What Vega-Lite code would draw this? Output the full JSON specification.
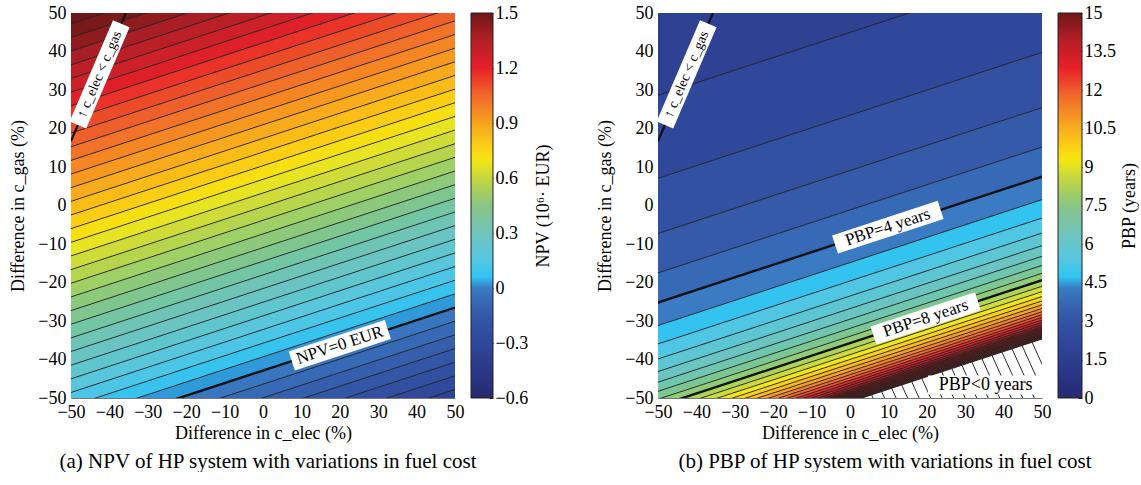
{
"$schema": "https://vega.github.io/schema/vega-lite/v6.json",
"padding": {"left": 9, "top": 4, "right": 0, "bottom": 0},
"bounds": "flush",
"spacing": 16,
"resolve": {"scale": {"color": "independent"}},
"config": {
  "font": "Liberation Serif",
  "view": {"stroke": null},
  "axis": {"labelFont": "Liberation Serif", "labelFontSize": 18, "labelColor": "#000", "titleFont": "Liberation Serif", "titleFontSize": 18, "titleFontWeight": "normal", "titleColor": "#000", "grid": false, "ticks": false, "domainColor": "#777", "labelPadding": 5, "labelOverlap": false, "labelFlush": false},
  "title": {"font": "Liberation Serif", "fontSize": 21, "fontWeight": "normal", "color": "#000"},
  "text": {"font": "Liberation Serif"}
},
"datasets": {
  "npv": [
    {"v":-0.35,"m":-0.325,"x":-50,"y":-84.02,"y2":-80.48},{"v":-0.35,"m":-0.325,"x":50,"y":-51.32,"y2":-47.78},
    {"v":-0.30,"m":-0.275,"x":-50,"y":-80.48,"y2":-76.93},{"v":-0.30,"m":-0.275,"x":50,"y":-47.78,"y2":-44.23},
    {"v":-0.25,"m":-0.225,"x":-50,"y":-76.93,"y2":-73.38},{"v":-0.25,"m":-0.225,"x":50,"y":-44.23,"y2":-40.68},
    {"v":-0.20,"m":-0.175,"x":-50,"y":-73.38,"y2":-69.84},{"v":-0.20,"m":-0.175,"x":50,"y":-40.68,"y2":-37.14},
    {"v":-0.15,"m":-0.125,"x":-50,"y":-69.84,"y2":-66.29},{"v":-0.15,"m":-0.125,"x":50,"y":-37.14,"y2":-33.59},
    {"v":-0.10,"m":-0.075,"x":-50,"y":-66.29,"y2":-62.75},{"v":-0.10,"m":-0.075,"x":50,"y":-33.59,"y2":-30.05},
    {"v":-0.05,"m":-0.025,"x":-50,"y":-62.75,"y2":-59.20},{"v":-0.05,"m":-0.025,"x":50,"y":-30.05,"y2":-26.50},
    {"v":0,"m":0.025,"x":-50,"y":-59.20,"y2":-55.65},{"v":0,"m":0.025,"x":50,"y":-26.50,"y2":-22.95},
    {"v":0.05,"m":0.075,"x":-50,"y":-55.65,"y2":-52.11},{"v":0.05,"m":0.075,"x":50,"y":-22.95,"y2":-19.41},
    {"v":0.10,"m":0.125,"x":-50,"y":-52.11,"y2":-48.56},{"v":0.10,"m":0.125,"x":50,"y":-19.41,"y2":-15.86},
    {"v":0.15,"m":0.175,"x":-50,"y":-48.56,"y2":-45.02},{"v":0.15,"m":0.175,"x":50,"y":-15.86,"y2":-12.32},
    {"v":0.20,"m":0.225,"x":-50,"y":-45.02,"y2":-41.47},{"v":0.20,"m":0.225,"x":50,"y":-12.32,"y2":-8.77},
    {"v":0.25,"m":0.275,"x":-50,"y":-41.47,"y2":-37.92},{"v":0.25,"m":0.275,"x":50,"y":-8.77,"y2":-5.22},
    {"v":0.30,"m":0.325,"x":-50,"y":-37.92,"y2":-34.38},{"v":0.30,"m":0.325,"x":50,"y":-5.22,"y2":-1.68},
    {"v":0.35,"m":0.375,"x":-50,"y":-34.38,"y2":-30.83},{"v":0.35,"m":0.375,"x":50,"y":-1.68,"y2":1.87},
    {"v":0.40,"m":0.425,"x":-50,"y":-30.83,"y2":-27.29},{"v":0.40,"m":0.425,"x":50,"y":1.87,"y2":5.41},
    {"v":0.45,"m":0.475,"x":-50,"y":-27.29,"y2":-23.74},{"v":0.45,"m":0.475,"x":50,"y":5.41,"y2":8.96},
    {"v":0.50,"m":0.525,"x":-50,"y":-23.74,"y2":-20.19},{"v":0.50,"m":0.525,"x":50,"y":8.96,"y2":12.51},
    {"v":0.55,"m":0.575,"x":-50,"y":-20.19,"y2":-16.65},{"v":0.55,"m":0.575,"x":50,"y":12.51,"y2":16.05},
    {"v":0.60,"m":0.625,"x":-50,"y":-16.65,"y2":-13.10},{"v":0.60,"m":0.625,"x":50,"y":16.05,"y2":19.60},
    {"v":0.65,"m":0.675,"x":-50,"y":-13.10,"y2":-9.56},{"v":0.65,"m":0.675,"x":50,"y":19.60,"y2":23.14},
    {"v":0.70,"m":0.725,"x":-50,"y":-9.56,"y2":-6.01},{"v":0.70,"m":0.725,"x":50,"y":23.14,"y2":26.69},
    {"v":0.75,"m":0.775,"x":-50,"y":-6.01,"y2":-2.46},{"v":0.75,"m":0.775,"x":50,"y":26.69,"y2":30.24},
    {"v":0.80,"m":0.825,"x":-50,"y":-2.46,"y2":1.08},{"v":0.80,"m":0.825,"x":50,"y":30.24,"y2":33.78},
    {"v":0.85,"m":0.875,"x":-50,"y":1.08,"y2":4.63},{"v":0.85,"m":0.875,"x":50,"y":33.78,"y2":37.33},
    {"v":0.90,"m":0.925,"x":-50,"y":4.63,"y2":8.17},{"v":0.90,"m":0.925,"x":50,"y":37.33,"y2":40.87},
    {"v":0.95,"m":0.975,"x":-50,"y":8.17,"y2":11.72},{"v":0.95,"m":0.975,"x":50,"y":40.87,"y2":44.42},
    {"v":1.00,"m":1.025,"x":-50,"y":11.72,"y2":15.27},{"v":1.00,"m":1.025,"x":50,"y":44.42,"y2":47.97},
    {"v":1.05,"m":1.075,"x":-50,"y":15.27,"y2":18.81},{"v":1.05,"m":1.075,"x":50,"y":47.97,"y2":51.51},
    {"v":1.10,"m":1.125,"x":-50,"y":18.81,"y2":22.36},{"v":1.10,"m":1.125,"x":50,"y":51.51,"y2":55.06},
    {"v":1.15,"m":1.175,"x":-50,"y":22.36,"y2":25.90},{"v":1.15,"m":1.175,"x":50,"y":55.06,"y2":58.60},
    {"v":1.20,"m":1.225,"x":-50,"y":25.90,"y2":29.45},{"v":1.20,"m":1.225,"x":50,"y":58.60,"y2":62.15},
    {"v":1.25,"m":1.275,"x":-50,"y":29.45,"y2":33.00},{"v":1.25,"m":1.275,"x":50,"y":62.15,"y2":65.70},
    {"v":1.30,"m":1.325,"x":-50,"y":33.00,"y2":36.54},{"v":1.30,"m":1.325,"x":50,"y":65.70,"y2":69.24},
    {"v":1.35,"m":1.375,"x":-50,"y":36.54,"y2":40.09},{"v":1.35,"m":1.375,"x":50,"y":69.24,"y2":72.79},
    {"v":1.40,"m":1.425,"x":-50,"y":40.09,"y2":43.63},{"v":1.40,"m":1.425,"x":50,"y":72.79,"y2":76.33},
    {"v":1.45,"m":1.475,"x":-50,"y":43.63,"y2":47.18},{"v":1.45,"m":1.475,"x":50,"y":76.33,"y2":79.88},
    {"v":1.50,"m":1.525,"x":-50,"y":47.18,"y2":50.73},{"v":1.50,"m":1.525,"x":50,"y":79.88,"y2":83.43}
  ],
  "pbp": [
    {"p":1.5,"m":1.75,"x":-50,"y":28.60,"y2":64.47},{"p":1.5,"m":1.75,"x":50,"y":61.30,"y2":97.17},
    {"p":2.0,"m":2.25,"x":-50,"y":7.08,"y2":28.60},{"p":2.0,"m":2.25,"x":50,"y":39.78,"y2":61.30},
    {"p":2.5,"m":2.75,"x":-50,"y":-7.27,"y2":7.08},{"p":2.5,"m":2.75,"x":50,"y":25.43,"y2":39.78},
    {"p":3.0,"m":3.25,"x":-50,"y":-17.51,"y2":-7.27},{"p":3.0,"m":3.25,"x":50,"y":15.19,"y2":25.43},
    {"p":3.5,"m":3.75,"x":-50,"y":-25.20,"y2":-17.51},{"p":3.5,"m":3.75,"x":50,"y":7.50,"y2":15.19},
    {"p":4.0,"m":4.25,"x":-50,"y":-31.18,"y2":-25.20},{"p":4.0,"m":4.25,"x":50,"y":1.52,"y2":7.50},
    {"p":4.5,"m":4.75,"x":-50,"y":-35.96,"y2":-31.18},{"p":4.5,"m":4.75,"x":50,"y":-3.26,"y2":1.52},
    {"p":5.0,"m":5.25,"x":-50,"y":-39.87,"y2":-35.96},{"p":5.0,"m":5.25,"x":50,"y":-7.17,"y2":-3.26},
    {"p":5.5,"m":5.75,"x":-50,"y":-43.13,"y2":-39.87},{"p":5.5,"m":5.75,"x":50,"y":-10.43,"y2":-7.17},
    {"p":6.0,"m":6.25,"x":-50,"y":-45.89,"y2":-43.13},{"p":6.0,"m":6.25,"x":50,"y":-13.19,"y2":-10.43},
    {"p":6.5,"m":6.75,"x":-50,"y":-48.26,"y2":-45.89},{"p":6.5,"m":6.75,"x":50,"y":-15.56,"y2":-13.19},
    {"p":7.0,"m":7.25,"x":-50,"y":-50.31,"y2":-48.26},{"p":7.0,"m":7.25,"x":50,"y":-17.61,"y2":-15.56},
    {"p":7.5,"m":7.75,"x":-50,"y":-52.10,"y2":-50.31},{"p":7.5,"m":7.75,"x":50,"y":-19.40,"y2":-17.61},
    {"p":8.0,"m":8.25,"x":-50,"y":-53.68,"y2":-52.10},{"p":8.0,"m":8.25,"x":50,"y":-20.98,"y2":-19.40},
    {"p":8.5,"m":8.75,"x":-50,"y":-55.09,"y2":-53.68},{"p":8.5,"m":8.75,"x":50,"y":-22.39,"y2":-20.98},
    {"p":9.0,"m":9.25,"x":-50,"y":-56.35,"y2":-55.09},{"p":9.0,"m":9.25,"x":50,"y":-23.65,"y2":-22.39},
    {"p":9.5,"m":9.75,"x":-50,"y":-57.48,"y2":-56.35},{"p":9.5,"m":9.75,"x":50,"y":-24.78,"y2":-23.65},
    {"p":10.0,"m":10.25,"x":-50,"y":-58.50,"y2":-57.48},{"p":10.0,"m":10.25,"x":50,"y":-25.80,"y2":-24.78},
    {"p":10.5,"m":10.75,"x":-50,"y":-59.44,"y2":-58.50},{"p":10.5,"m":10.75,"x":50,"y":-26.74,"y2":-25.80},
    {"p":11.0,"m":11.25,"x":-50,"y":-60.29,"y2":-59.44},{"p":11.0,"m":11.25,"x":50,"y":-27.59,"y2":-26.74},
    {"p":11.5,"m":11.75,"x":-50,"y":-61.07,"y2":-60.29},{"p":11.5,"m":11.75,"x":50,"y":-28.37,"y2":-27.59},
    {"p":12.0,"m":12.25,"x":-50,"y":-61.78,"y2":-61.07},{"p":12.0,"m":12.25,"x":50,"y":-29.08,"y2":-28.37},
    {"p":12.5,"m":12.75,"x":-50,"y":-62.45,"y2":-61.78},{"p":12.5,"m":12.75,"x":50,"y":-29.75,"y2":-29.08},
    {"p":13.0,"m":13.25,"x":-50,"y":-63.06,"y2":-62.45},{"p":13.0,"m":13.25,"x":50,"y":-30.36,"y2":-29.75},
    {"p":13.5,"m":13.75,"x":-50,"y":-63.63,"y2":-63.06},{"p":13.5,"m":13.75,"x":50,"y":-30.93,"y2":-30.36},
    {"p":14.0,"m":14.25,"x":-50,"y":-64.16,"y2":-63.63},{"p":14.0,"m":14.25,"x":50,"y":-31.46,"y2":-30.93},
    {"p":14.5,"m":14.75,"x":-50,"y":-64.65,"y2":-64.16},{"p":14.5,"m":14.75,"x":50,"y":-31.95,"y2":-31.46},
    {"p":15.0,"m":15.25,"x":-50,"y":-65.12,"y2":-64.65},{"p":15.0,"m":15.25,"x":50,"y":-32.42,"y2":-31.95},
    {"p":15.5,"m":15.75,"x":-50,"y":-65.55,"y2":-65.12},{"p":15.5,"m":15.75,"x":50,"y":-32.85,"y2":-32.42},
    {"p":16.0,"m":16.25,"x":-50,"y":-65.96,"y2":-65.55},{"p":16.0,"m":16.25,"x":50,"y":-33.26,"y2":-32.85},
    {"p":16.5,"m":16.75,"x":-50,"y":-66.34,"y2":-65.96},{"p":16.5,"m":16.75,"x":50,"y":-33.64,"y2":-33.26},
    {"p":17.0,"m":17.25,"x":-50,"y":-66.70,"y2":-66.34},{"p":17.0,"m":17.25,"x":50,"y":-34.00,"y2":-33.64},
    {"p":17.5,"m":17.75,"x":-50,"y":-67.04,"y2":-66.70},{"p":17.5,"m":17.75,"x":50,"y":-34.34,"y2":-34.00},
    {"p":18.0,"m":18.25,"x":-50,"y":-67.37,"y2":-67.04},{"p":18.0,"m":18.25,"x":50,"y":-34.67,"y2":-34.34}
  ],
  "hatch": [
    {"x":6,"y":-50,"x2":5.63,"y2":-49.18},{"x":9,"y":-50,"x2":8.24,"y2":-48.33},
    {"x":12,"y":-50,"x2":10.85,"y2":-47.47},{"x":15,"y":-50,"x2":13.46,"y2":-46.62},
    {"x":18,"y":-50,"x2":16.07,"y2":-45.76},{"x":21,"y":-50,"x2":18.69,"y2":-44.91},
    {"x":24,"y":-50,"x2":21.30,"y2":-44.06},{"x":27,"y":-50,"x2":23.91,"y2":-43.20},
    {"x":30,"y":-50,"x2":26.52,"y2":-42.35},{"x":33,"y":-50,"x2":29.13,"y2":-41.49},
    {"x":36,"y":-50,"x2":31.75,"y2":-40.64},{"x":39,"y":-50,"x2":34.36,"y2":-39.79},
    {"x":42,"y":-50,"x2":36.97,"y2":-38.93},{"x":45,"y":-50,"x2":39.58,"y2":-38.08},
    {"x":48,"y":-50,"x2":42.19,"y2":-37.22},{"x":51,"y":-50,"x2":44.80,"y2":-36.37},
    {"x":54,"y":-50,"x2":47.42,"y2":-35.52},{"x":57,"y":-50,"x2":50.03,"y2":-34.66}
  ],
  "sep": [{"x":-50,"y":16.75,"x2":-35.7,"y2":50}],
  "sepBox": [{"x":-48.2,"y":20.9,"x2":-36.9,"y2":47.2}],
  "sepLbl": [{"x":-42.55,"y":34.05,"t":"↑ c_elec < c_gas"}],
  "boxA": [{"x":7.5,"y":-40.4,"x2":32.5,"y2":-32.2}],
  "lblA": [{"x":20,"y":-36.31,"t":"NPV=0 EUR"}],
  "boxB": [{"x":-3.9,"y":-10.12,"x2":23.6,"y2":-1.14},{"x":6.1,"y":-33.76,"x2":33.3,"y2":-24.86},{"x":20.3,"y":-46.6,"x2":50,"y2":-46.6}],
  "lblB": [{"x":9.85,"y":-5.63,"t":"PBP=4 years"},{"x":19.7,"y":-29.31,"t":"PBP=8 years"}],
  "lblB0": [{"x":35.3,"y":-46.6,"t":"PBP<0 years"}]
},
"hconcat": [
  {
    "width": 384, "height": 385,
    "title": {"text": "(a) NPV of HP system with variations in fuel cost", "orient": "bottom", "anchor": "middle", "offset": 9, "dx": 5},
    "encoding": {
      "x": {"field": "x", "type": "quantitative", "scale": {"domain": [-50, 50], "nice": false, "zero": false}, "title": "Difference in c_elec (%)", "axis": {"values": [-50,-40,-30,-20,-10,0,10,20,30,40,50], "labelFlush": false, "labelOverlap": false, "titlePadding": 3}},
      "y": {"field": "y", "type": "quantitative", "stack": null, "scale": {"domain": [-50, 50], "nice": false, "zero": false}, "title": "Difference in c_gas (%)", "axis": {"values": [-50,-40,-30,-20,-10,0,10,20,30,40,50], "labelOverlap": false, "titlePadding": 10}}
    },
    "layer": [
      {"data": {"name": "npv"}, "mark": {"type": "area", "orient": "vertical", "clip": true},
       "encoding": {
         "y2": {"field": "y2"},
         "detail": {"field": "v", "type": "quantitative"},
         "color": {"field": "m", "type": "quantitative", "legend": null, "scale": {"domain": [-0.6,-0.45,-0.3,-0.15,0,0.06,0.15,0.3,0.45,0.6,0.7,0.75,0.9,1.05,1.2,1.35,1.5], "range": ["#262a70","#2b3889","#2f4699","#3459a8","#3a7cc4","#2fc3f1","#55c7e2","#70c4bc","#88c584","#c4d73f","#f4e812","#fbd714","#f7a21e","#f0682a","#e8202a","#b41f26","#6e1718"], "clamp": true}}
       }},
      {"data": {"name": "npv"}, "mark": {"type": "line", "clip": true, "color": "#1a1a1a", "strokeWidth": 0.9},
       "encoding": {"detail": {"field": "v", "type": "quantitative"}}},
      {"data": {"name": "npv"}, "transform": [{"filter": "datum.v == 0"}], "mark": {"type": "line", "clip": true, "color": "#111", "strokeWidth": 2.4},
       "encoding": {}},
      {"data": {"name": "sep"}, "mark": {"type": "rule", "clip": true, "color": "#111", "strokeWidth": 2.2},
       "encoding": {"x2": {"field": "x2"}, "y2": {"field": "y2"}}},
      {"data": {"name": "sepBox"}, "mark": {"type": "rule", "clip": true, "color": "#fff", "strokeWidth": 18, "strokeCap": "butt"},
       "encoding": {"x2": {"field": "x2"}, "y2": {"field": "y2"}}},
      {"data": {"name": "boxA"}, "mark": {"type": "rule", "clip": true, "color": "#fff", "strokeWidth": 20, "strokeCap": "butt"},
       "encoding": {"x2": {"field": "x2"}, "y2": {"field": "y2"}}},
      {"data": {"name": "sepLbl"}, "mark": {"type": "text", "angle": -66.8, "fontSize": 14, "align": "center", "baseline": "middle", "color": "#000"},
       "encoding": {"text": {"field": "t"}}},
      {"data": {"name": "lblA"}, "mark": {"type": "text", "angle": -18.2, "fontSize": 17, "align": "center", "baseline": "middle", "color": "#000"},
       "encoding": {"text": {"field": "t"}}}
    ]
  },
  {
    "width": 22, "height": 385,
    "data": {"values": [{"lo": -0.6, "hi": 1.5}]},
    "mark": {"type": "rect", "stroke": "#222", "strokeWidth": 1,
      "fill": {"gradient": "linear", "x1": 0, "y1": 1, "x2": 0, "y2": 0, "stops": [
        {"offset": 0, "color": "#262a70"}, {"offset": 0.0714, "color": "#2b3889"}, {"offset": 0.1429, "color": "#2f4699"}, {"offset": 0.2143, "color": "#3459a8"}, {"offset": 0.2857, "color": "#3a7cc4"}, {"offset": 0.3143, "color": "#2fc3f1"}, {"offset": 0.3571, "color": "#55c7e2"}, {"offset": 0.4286, "color": "#70c4bc"}, {"offset": 0.5, "color": "#88c584"}, {"offset": 0.5714, "color": "#c4d73f"}, {"offset": 0.619, "color": "#f4e812"}, {"offset": 0.6429, "color": "#fbd714"}, {"offset": 0.7143, "color": "#f7a21e"}, {"offset": 0.7857, "color": "#f0682a"}, {"offset": 0.8571, "color": "#e8202a"}, {"offset": 0.9286, "color": "#b41f26"}, {"offset": 1, "color": "#6e1718"}]}},
    "encoding": {
      "y": {"field": "lo", "type": "quantitative", "scale": {"domain": [-0.6, 1.5], "nice": false, "zero": false}, "title": "NPV (10⁶· EUR)",
        "axis": {"orient": "right", "values": [-0.6,-0.3,0,0.3,0.6,0.9,1.2,1.5], "format": ".1~f", "domain": false, "ticks": true, "tickSize": -4, "tickColor": "#222", "labelPadding": 6, "labelOverlap": false, "titleAngle": -90, "titleBaseline": "top", "titlePadding": 7}},
      "y2": {"field": "hi"}
    }
  },
  {
    "width": 133, "height": 385,
    "data": {"values": [{}]},
    "mark": {"type": "point", "opacity": 0}
  },
  {
    "width": 384, "height": 385,
    "title": {"text": "(b) PBP of HP system with variations in fuel cost", "orient": "bottom", "anchor": "middle", "offset": 9, "dx": 35},
    "encoding": {
      "x": {"field": "x", "type": "quantitative", "scale": {"domain": [-50, 50], "nice": false, "zero": false}, "title": "Difference in c_elec (%)", "axis": {"values": [-50,-40,-30,-20,-10,0,10,20,30,40,50], "labelFlush": false, "labelOverlap": false, "titlePadding": 3}},
      "y": {"field": "y", "type": "quantitative", "stack": null, "scale": {"domain": [-50, 50], "nice": false, "zero": false}, "title": "Difference in c_gas (%)", "axis": {"values": [-50,-40,-30,-20,-10,0,10,20,30,40,50], "labelOverlap": false, "titlePadding": 10}}
    },
    "layer": [
      {"data": {"name": "pbp"}, "mark": {"type": "area", "orient": "vertical", "clip": true},
       "encoding": {
         "y2": {"field": "y2"},
         "detail": {"field": "p", "type": "quantitative"},
         "color": {"field": "m", "type": "quantitative", "legend": null, "scale": {"domain": [0,1.071,2.143,3.214,4.286,4.714,5.357,6.429,7.5,8.571,9.286,9.643,10.714,11.786,12.857,13.929,15], "range": ["#262a70","#2b3889","#2f4699","#3459a8","#3a7cc4","#2fc3f1","#55c7e2","#70c4bc","#88c584","#c4d73f","#f4e812","#fbd714","#f7a21e","#f0682a","#e8202a","#b41f26","#6e1718"], "clamp": true}}
       }},
      {"data": {"name": "pbp"}, "mark": {"type": "line", "clip": true, "color": "#1a1a1a", "strokeWidth": 0.9},
       "encoding": {"detail": {"field": "p", "type": "quantitative"}}},
      {"data": {"name": "pbp"}, "transform": [{"filter": "datum.p == 3.5 || datum.p == 7.5"}], "mark": {"type": "line", "clip": true, "color": "#111", "strokeWidth": 2.4},
       "encoding": {"detail": {"field": "p", "type": "quantitative"}}},
      {"data": {"name": "hatch"}, "mark": {"type": "rule", "clip": true, "color": "#111", "strokeWidth": 0.9},
       "encoding": {"x2": {"field": "x2"}, "y2": {"field": "y2"}}},
      {"data": {"name": "sep"}, "mark": {"type": "rule", "clip": true, "color": "#111", "strokeWidth": 2.2},
       "encoding": {"x2": {"field": "x2"}, "y2": {"field": "y2"}}},
      {"data": {"name": "sepBox"}, "mark": {"type": "rule", "clip": true, "color": "#fff", "strokeWidth": 18, "strokeCap": "butt"},
       "encoding": {"x2": {"field": "x2"}, "y2": {"field": "y2"}}},
      {"data": {"name": "boxB"}, "mark": {"type": "rule", "clip": true, "color": "#fff", "strokeWidth": 19, "strokeCap": "butt"},
       "encoding": {"x2": {"field": "x2"}, "y2": {"field": "y2"}}},
      {"data": {"name": "sepLbl"}, "mark": {"type": "text", "angle": -66.8, "fontSize": 14, "align": "center", "baseline": "middle", "color": "#000"},
       "encoding": {"text": {"field": "t"}}},
      {"data": {"name": "lblB"}, "mark": {"type": "text", "angle": -18.2, "fontSize": 17, "align": "center", "baseline": "middle", "color": "#000"},
       "encoding": {"text": {"field": "t"}}},
      {"data": {"name": "lblB0"}, "mark": {"type": "text", "fontSize": 18, "align": "center", "baseline": "middle", "color": "#000"},
       "encoding": {"text": {"field": "t"}}}
    ]
  },
  {
    "width": 24, "height": 385,
    "data": {"values": [{"lo": 0, "hi": 15}]},
    "mark": {"type": "rect", "stroke": "#222", "strokeWidth": 1,
      "fill": {"gradient": "linear", "x1": 0, "y1": 1, "x2": 0, "y2": 0, "stops": [
        {"offset": 0, "color": "#262a70"}, {"offset": 0.0714, "color": "#2b3889"}, {"offset": 0.1429, "color": "#2f4699"}, {"offset": 0.2143, "color": "#3459a8"}, {"offset": 0.2857, "color": "#3a7cc4"}, {"offset": 0.3143, "color": "#2fc3f1"}, {"offset": 0.3571, "color": "#55c7e2"}, {"offset": 0.4286, "color": "#70c4bc"}, {"offset": 0.5, "color": "#88c584"}, {"offset": 0.5714, "color": "#c4d73f"}, {"offset": 0.619, "color": "#f4e812"}, {"offset": 0.6429, "color": "#fbd714"}, {"offset": 0.7143, "color": "#f7a21e"}, {"offset": 0.7857, "color": "#f0682a"}, {"offset": 0.8571, "color": "#e8202a"}, {"offset": 0.9286, "color": "#b41f26"}, {"offset": 1, "color": "#6e1718"}]}},
    "encoding": {
      "y": {"field": "lo", "type": "quantitative", "scale": {"domain": [0, 15], "nice": false, "zero": false}, "title": "PBP (years)",
        "axis": {"orient": "right", "values": [0,1.5,3,4.5,6,7.5,9,10.5,12,13.5,15], "format": ".1~f", "domain": false, "ticks": true, "tickSize": -4, "tickColor": "#222", "labelPadding": 6, "labelOverlap": false, "titleAngle": -90, "titleBaseline": "top", "titlePadding": 5}},
      "y2": {"field": "hi"}
    }
  }
]
}
